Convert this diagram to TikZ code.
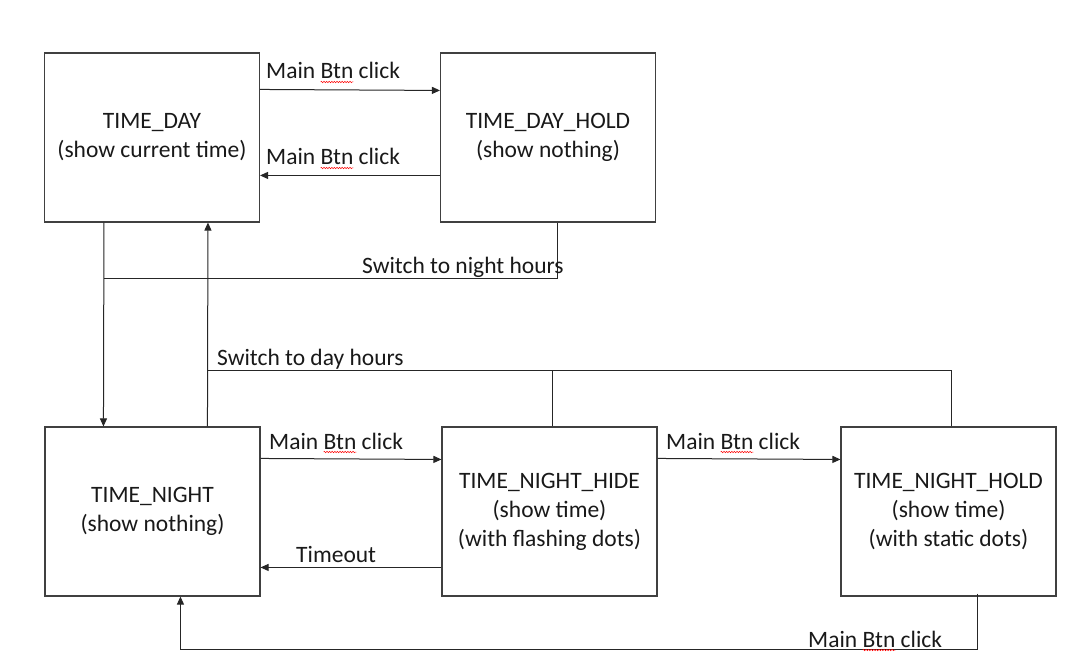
\documentclass[tikz,border=0pt]{standalone}
\usepackage{fontspec}
\setmainfont{Carlito}
\usetikzlibrary{arrows.meta,calc,decorations.pathmorphing}
\newlength\btnw
\newcommand\btnsq{\settowidth\btnw{Btn}\tikz[overlay,baseline=0pt]\draw[red,line width=0.5pt,decorate,decoration={snake,amplitude=0.7pt,segment length=2.6pt}] (0pt,-3pt) -- (\btnw,-3pt);Btn}
\tikzset{
  statebox/.style={draw=black!75,line width=1.1pt,minimum width=215pt,minimum height=169pt,inner sep=0pt,align=center,text=black!90,font=\fontsize{23.5}{29}\selectfont},
  lbl/.style={anchor=base west,inner sep=0pt,text=black!90,font=\fontsize{23.5}{29}\selectfont},
  arr/.style={line width=1pt,black!85,-{Triangle[length=8pt,width=7pt]}},
  ln/.style={line width=1pt,black!85}
}
\begin{document}
\begin{tikzpicture}[x=1pt,y=-1pt]
\useasboundingbox[fill=white] (0,0) rectangle (1091,668);
\node[statebox] (day) at (152,137.5) {TIME\_DAY\\(show current time)};
\node[statebox] (dayhold) at (548,137.5) {TIME\_DAY\_HOLD\\(show nothing)};
\node[statebox] (night) at (152.5,511.5) {TIME\_NIGHT\\(show nothing)};
\node[statebox] (hide) at (549.5,511.5) {TIME\_NIGHT\_HIDE\\(show time)\\(with flashing dots)};
\node[statebox] (nhold) at (948.5,511.5) {TIME\_NIGHT\_HOLD\\(show time)\\(with static dots)};
% top row
\draw[arr] ($(day.north east)+(0,37)$) -- ($(dayhold.north west)+(0,38)$);
\draw[arr] ($(dayhold.north west)+(0,123)$) -- ($(day.north east)+(0,123)$);
% vertical day/night
\draw[arr] ($(day.south west)+(60,0)$) -- ($(night.north west)+(59,0)$);
\draw[arr] ($(night.north west)+(163,0)$) -- ($(day.south west)+(164,0)$);
\coordinate (jn) at ($(day.south west)+(60,56)$);
\draw[ln] ($(dayhold.south west)+(118,0)$) |- (jn);
% switch to day
\coordinate (jd) at ($(night.north west)+(163,-56)$);
\draw[ln] ($(hide.north)+(2.5,0)$) |- (jd);
\draw[ln] ($(nhold.north)+(2.5,0)$) |- (jd);
% night row
\draw[arr] ($(night.north east)+(0,32)$) -- ($(hide.north west)+(0,33)$);
\draw[arr] ($(hide.north east)+(0,32)$) -- ($(nhold.north west)+(0,33)$);
\draw[arr] ($(hide.north west)+(0,141)$) -- ($(night.north east)+(0,141)$);
% bottom return
\coordinate (bt) at ($(night.south west)+(136,53)$);
\draw[ln] ($(nhold.south west)+(137,-3)$) |- (bt);
\draw[arr] (bt) -- ($(night.south west)+(136,0)$);
% labels
\node[lbl] (l1) at (266,79) {Main \btnsq{} click};
\node[lbl] (l2) at (266,165) {Main \btnsq{} click};
\node[lbl] (l3) at (362,273) {Switch to night hours};
\node[lbl] (l4) at (217,365) {Switch to day hours};
\node[lbl] (l5) at (269,449) {Main \btnsq{} click};
\node[lbl] (l6) at (666,449) {Main \btnsq{} click};
\node[lbl] (l7) at (296,562) {Timeout};
\node[lbl] (l8) at (808,647) {Main \btnsq{} click};
\end{tikzpicture}
\end{document}
